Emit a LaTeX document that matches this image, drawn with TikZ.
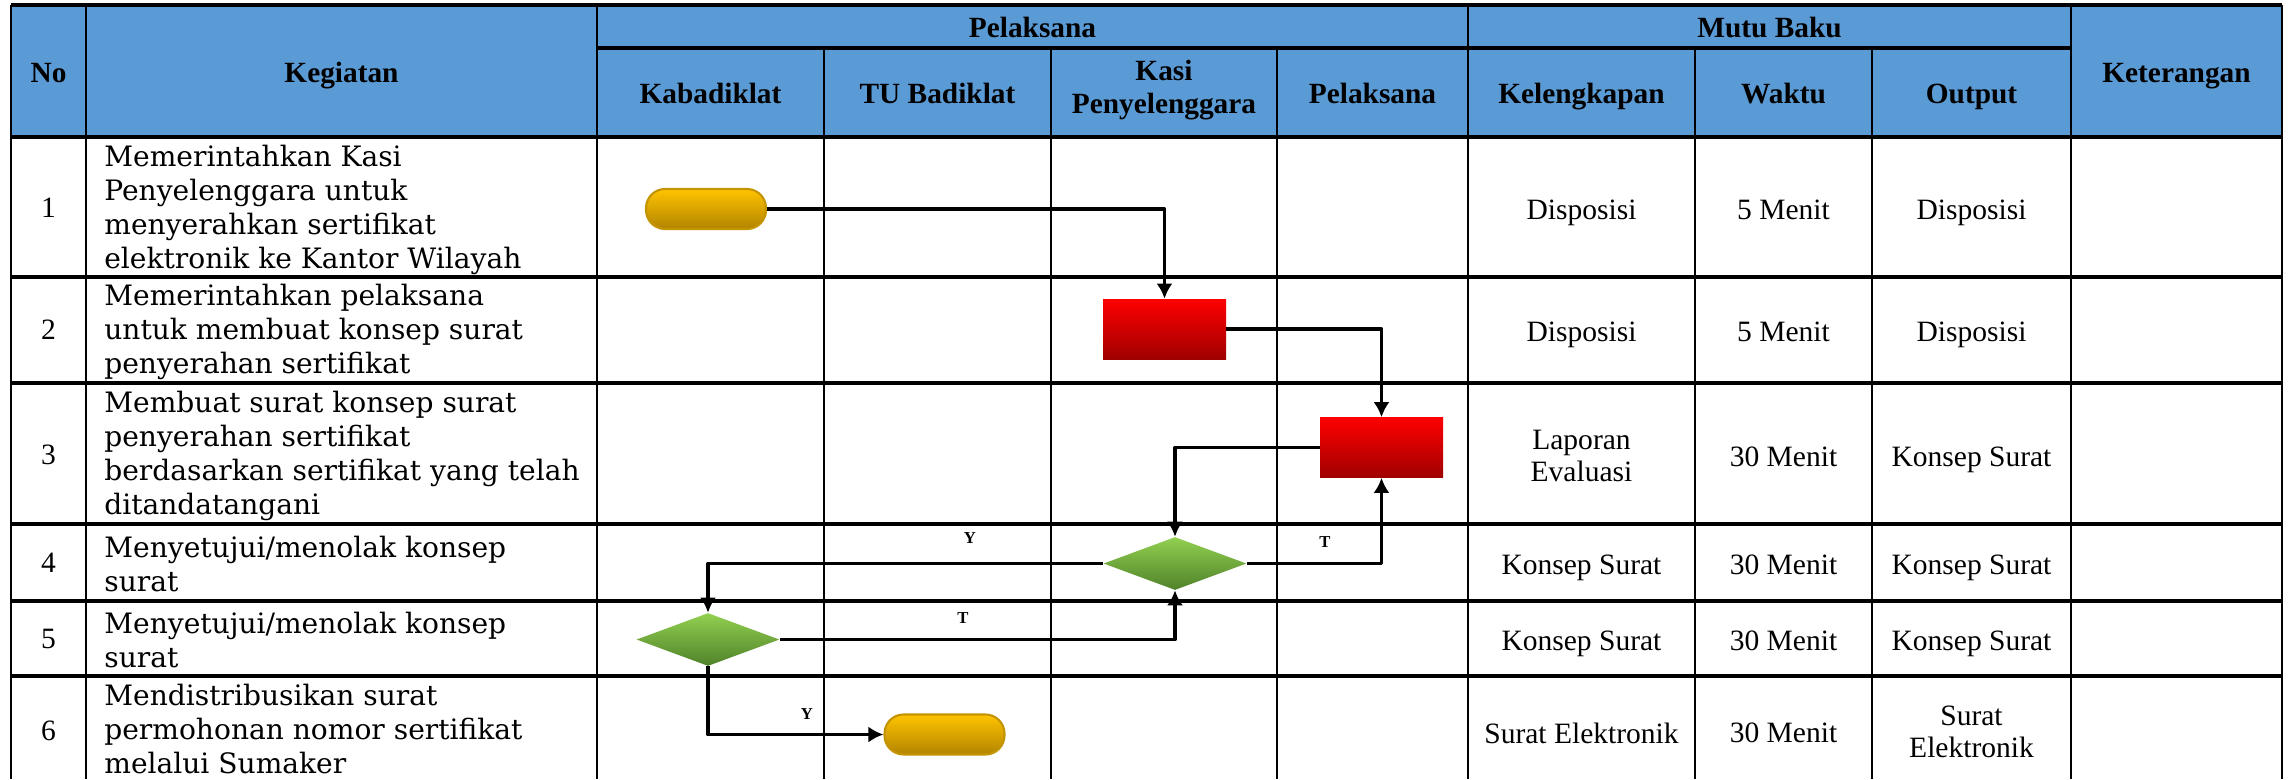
\documentclass[tikz,border=0pt]{standalone}
\usepackage{fontspec}
\setmainfont{Liberation Serif}
\newfontfamily\kegfont{DejaVu Serif}
\usetikzlibrary{shapes.geometric,arrows.meta}
\definecolor{headblue}{RGB}{91,155,213}
\definecolor{termtop}{RGB}{255,196,0}
\definecolor{termbot}{RGB}{178,132,0}
\definecolor{termedge}{RGB}{196,148,0}
\definecolor{proctop}{RGB}{255,0,0}
\definecolor{procbot}{RGB}{160,0,0}
\definecolor{dectop}{RGB}{146,208,80}
\definecolor{decbot}{RGB}{80,130,42}
\begin{document}
\begin{tikzpicture}[x=0.02cm, y=-0.02cm, line join=round,
	grid/.style={line width=1.9pt},
	vgrid/.style={line width=1.6pt},
	hd/.style={font=\fontsize{16.7}{18.5}\selectfont\bfseries, align=center},
	hd1/.style={hd, text depth=0.25em},
	cell/.style={font=\fontsize{16.8}{18.5}\selectfont, align=center},
	cell1/.style={cell, text depth=0.25em},
	keg/.style={font=\kegfont\fontsize{16}{19.5}\selectfont, align=left, anchor=west, inner sep=0pt},
	term/.style={draw=termedge, line width=1.2pt, top color=termtop, bottom color=termbot, rounded corners=0.38cm, minimum width=2.4cm, minimum height=0.8cm, inner sep=0pt},
	proc/.style={top color=proctop, bottom color=procbot, minimum width=2.46cm, minimum height=1.2cm, inner sep=0pt},
	dec/.style={diamond, top color=dectop, bottom color=decbot, minimum width=2.86cm, minimum height=1.06cm, inner sep=0pt},
	flow/.style={line width=2pt, -{Latex[length=0.3cm, width=0.32cm]}},
	yt/.style={font=\fontsize{9.5}{10}\selectfont\bfseries, inner sep=1pt}]
	\useasboundingbox (0,0) rectangle (2293,779);
	\fill[headblue] (11,5) rectangle (2282,137);
	\draw[grid] (11,5) -- (2282,5);
	\foreach \y in {137,277,383,524,601,676}
		\draw[grid] (11,\y) -- (2282,\y);
	\draw[grid] (597,48) -- (2071,48);
	\foreach \x in {11,86,597,1468,2071,2282}
		\draw[vgrid] (\x,5) -- (\x,779);
	\foreach \x in {824,1051,1277,1695,1872}
		\draw[vgrid] (\x,48) -- (\x,779);
	\node[hd1] (hno) at (48.5,75) {No};
	\node[hd1] (hkeg) at (341.5,75) {Kegiatan};
	\node[hd1] (hpel) at (1032.5,30) {Pelaksana};
	\node[hd1] (hkab) at (710.5,96) {Kabadiklat};
	\node[hd1] (htu) at (937.5,96) {TU Badiklat};
	\node[hd] (hkasi) at (1164,90) {Kasi\\Penyelenggara};
	\node[hd1] (hpls) at (1372.5,96) {Pelaksana};
	\node[hd1] (hmutu) at (1769.5,30) {Mutu Baku};
	\node[hd1] (hkel) at (1581.5,96) {Kelengkapan};
	\node[hd1] (hwkt) at (1783.5,96) {Waktu};
	\node[hd1] (hout) at (1971.5,96) {Output};
	\node[hd1] (hket) at (2176.5,75) {Keterangan};
	\foreach \n/\y in {1/208,2/330,3/455,4/563,5/639,6/731}
		\node[cell] (no\n) at (48.5,\y) {\n};
	\node[keg] (k1) at (104,210) {Memerintahkan Kasi\\Penyelenggara untuk\\menyerahkan sertifikat\\elektronik ke Kantor Wilayah};
	\node[keg] (k2) at (104,332) {Memerintahkan pelaksana\\untuk membuat konsep surat\\penyerahan sertifikat};
	\node[keg] (k3) at (104,456) {Membuat surat konsep surat\\penyerahan sertifikat\\berdasarkan sertifikat yang telah\\ditandatangani};
	\node[keg] (k4) at (104,564) {Menyetujui/menolak konsep\\surat};
	\node[keg] (k5) at (104,640) {Menyetujui/menolak konsep\\surat};
	\node[keg] (k6) at (104,729) {Mendistribusikan surat\\permohonan nomor sertifikat\\melalui Sumaker};
	\node[cell1] (kel1) at (1581.5,212) {Disposisi};
	\node[cell1] (wkt1) at (1783.5,212) {5 Menit};
	\node[cell1] (out1) at (1971.5,212) {Disposisi};
	\node[cell1] (kel2) at (1581.5,334) {Disposisi};
	\node[cell1] (wkt2) at (1783.5,334) {5 Menit};
	\node[cell1] (out2) at (1971.5,334) {Disposisi};
	\node[cell] (kel3) at (1581.5,456) {Laporan\\Evaluasi};
	\node[cell1] (wkt3) at (1783.5,459) {30 Menit};
	\node[cell1] (out3) at (1971.5,459) {Konsep Surat};
	\node[cell1] (kel4) at (1581.5,567) {Konsep Surat};
	\node[cell1] (wkt4) at (1783.5,567) {30 Menit};
	\node[cell1] (out4) at (1971.5,567) {Konsep Surat};
	\node[cell1] (kel5) at (1581.5,643) {Konsep Surat};
	\node[cell1] (wkt5) at (1783.5,643) {30 Menit};
	\node[cell1] (out5) at (1971.5,643) {Konsep Surat};
	\node[cell1] (kel6) at (1581.5,735) {Surat Elektronik};
	\node[cell1] (wkt6) at (1783.5,735) {30 Menit};
	\node[cell] (out6) at (1971.5,732) {Surat\\Elektronik};
	\node[term] (start) at (706,209) {};
	\node[proc] (p1) at (1164.5,329) {};
	\node[proc] (p2) at (1381.5,447.5) {};
	\node[dec] (d1) at (1175,563.5) {};
	\node[dec] (d2) at (708,639.5) {};
	\node[term] (stop) at (944.5,734.5) {};
	\draw[flow] (start) -| (p1);
	\draw[flow] (p1) -| (p2);
	\draw[flow] (p2) -| (d1);
	\draw[flow] (d1) -| (p2);
	\draw[flow] (d1) -| (d2);
	\draw[flow] (d2) -| (d1);
	\draw[flow] (d2) |- (stop);
	\node[yt] (ya) at (970,538) {Y};
	\node[yt] (ta) at (1325,542) {T};
	\node[yt] (tb) at (963,618) {T};
	\node[yt] (yb) at (807,714) {Y};
\end{tikzpicture}
\end{document}
